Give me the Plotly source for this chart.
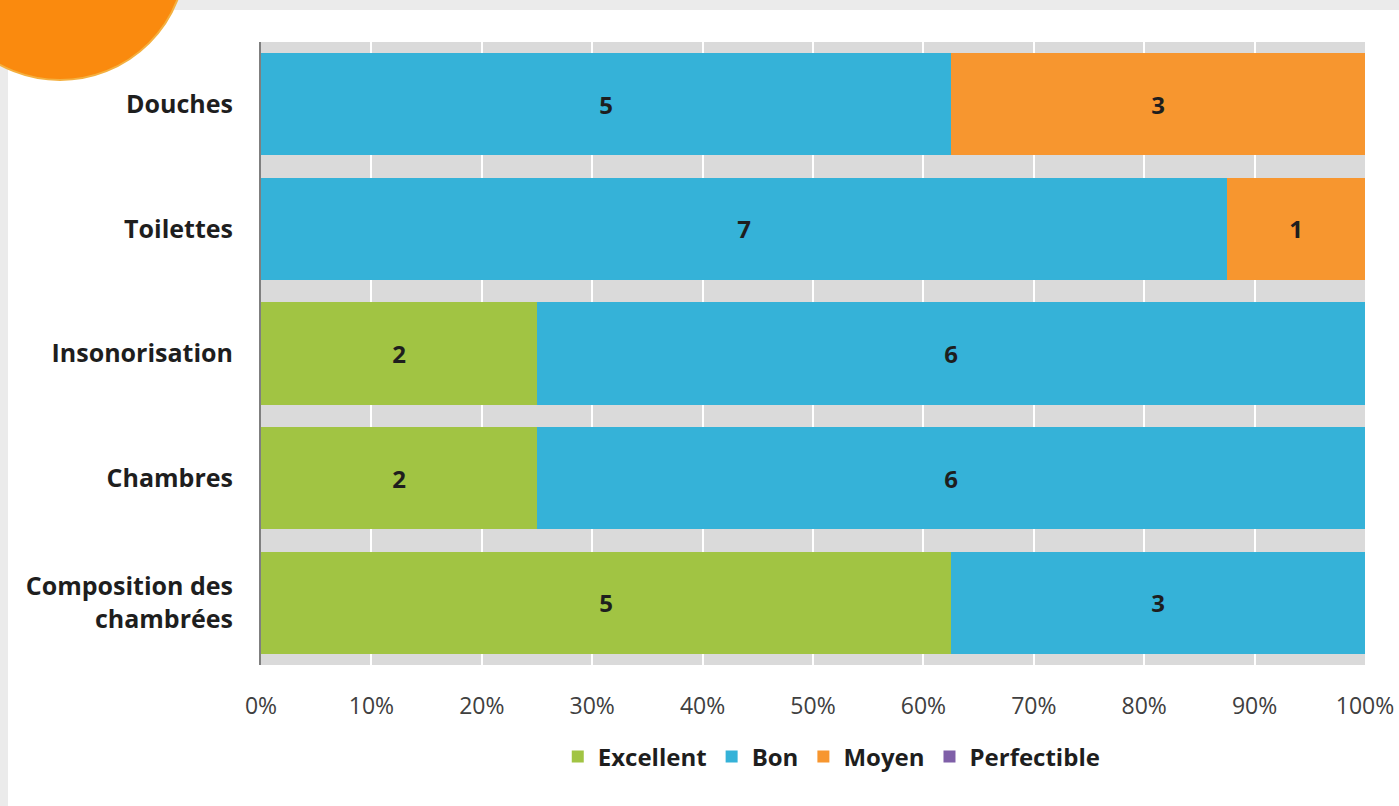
import plotly.graph_objects as go

categories = ["Composition des<br>chambrées", "Chambres", "Insonorisation", "Toilettes", "Douches"]
excellent = [5, 2, 2, 0, 0]
bon = [3, 6, 6, 7, 5]
moyen = [0, 0, 0, 1, 3]
perfectible = [0, 0, 0, 0, 0]
x_ticks = [0, 10, 20, 30, 40, 50, 60, 70, 80, 90, 100]
x_tick_labels = [f"{t}%" for t in x_ticks]

series = [
    ("Excellent", excellent, "#a1c443"),
    ("Bon", bon, "#35b2d8"),
    ("Moyen", moyen, "#f7962f"),
    ("Perfectible", perfectible, "#7f5fa8"),
]

FONT = "Open Sans"
fig = go.Figure()
for name, vals, col in series:
    fig.add_trace(go.Bar(
        y=categories, x=vals, name=name, orientation="h",
        marker=dict(color=col, line=dict(width=0)),
        text=[str(v) if v else "" for v in vals],
        texttemplate="%{text}", textposition="inside", insidetextanchor="middle",
        textfont=dict(family=FONT, size=24, color="#1e1e1e", weight="bold"),
        textangle=0,
    ))

L, R, T, B = 261, 34, 42, 141
W, H = 1399, 806
pw, ph = W - L - R, H - T - B

def px(xp):
    return (xp - L) / pw

def py(yp):
    return (H - B - yp) / ph

fig.update_layout(
    width=W, height=H,
    barmode="stack", barnorm="percent", bargap=0.18,
    paper_bgcolor="white", plot_bgcolor="#dadada",
    margin=dict(l=L, r=R, t=T, b=B, autoexpand=False),
    font=dict(family=FONT, color="#1e1e1e"),
    showlegend=True,
    legend=dict(orientation="h", x=0.517, xanchor="center", y=py(757), yanchor="middle",
                font=dict(family=FONT, size=24, color="#1e1e1e", weight="bold"),
                itemwidth=30, tracegroupgap=0, traceorder="normal",
                bgcolor="rgba(0,0,0,0)"),
    xaxis=dict(range=[0, 100], tickvals=x_ticks, ticktext=x_tick_labels,
               showgrid=True, gridcolor="white", gridwidth=2, zeroline=False,
               tickfont=dict(family=FONT, size=23, color="#404040"),
               ticks="outside", ticklen=6, tickcolor="white", tickwidth=2,
               ticklabelstandoff=14, showline=False, fixedrange=True, automargin=False),
    yaxis=dict(showgrid=False, zeroline=False, showline=True, linecolor="#7f7f7f", linewidth=2,
               tickfont=dict(family=FONT, size=25, color="#1e1e1e", weight="bold"),
               ticklabelstandoff=21, fixedrange=True, automargin=False),
    shapes=[
        dict(type="rect", xref="paper", yref="paper", x0=px(0), x1=px(8), y0=py(H), y1=py(0),
             fillcolor="#ebebeb", line=dict(width=0), layer="below"),
        dict(type="rect", xref="paper", yref="paper", x0=px(0), x1=px(W), y0=py(10), y1=py(0),
             fillcolor="#ebebeb", line=dict(width=0), layer="below"),
        dict(type="circle", xref="paper", yref="paper", x0=px(-66), x1=px(186), y0=py(80), y1=py(-172),
             fillcolor="#fa8a0e", line=dict(color="#f4b040", width=2), layer="above"),
    ],
)

fig.write_html("out.html", config={"displayModeBar": False},
               post_script="document.body.style.margin='0';document.body.style.overflow='hidden';")
